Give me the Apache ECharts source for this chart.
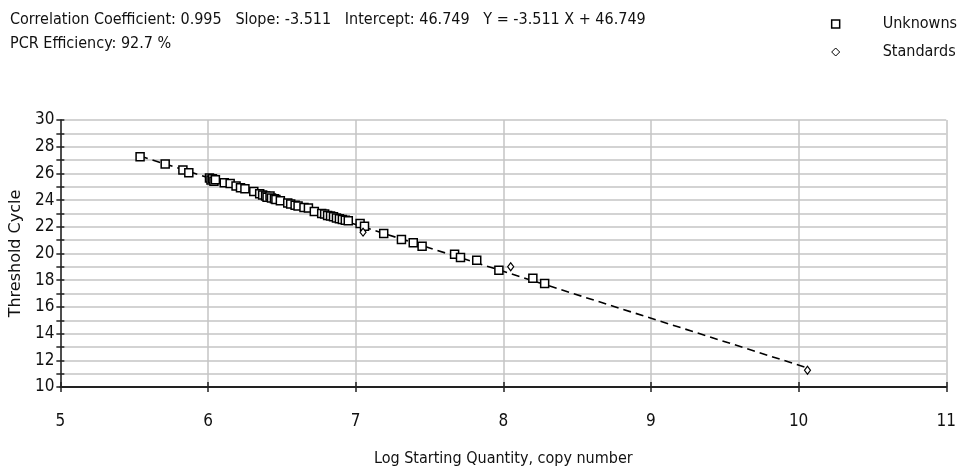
<!DOCTYPE html>
<html>
<head>
<meta charset="utf-8">
<script src="https://cdn.jsdelivr.net/npm/echarts@6/dist/echarts.min.js"></script>
<style>html,body{margin:0;padding:0;background:#fff}#c{width:959px;height:474px}</style>
</head>
<body>
<div id="c"></div>
<script>
const titleLine1 = 'Correlation Coefficient: 0.995   Slope: -3.511   Intercept: 46.749   Y = -3.511 X + 46.749';
const titleLine2 = 'PCR Efficiency: 92.7 %';
const xAxisName = 'Log Starting Quantity, copy number';
const yAxisName = 'Threshold Cycle';
const seriesNames = ['Unknowns', 'Standards'];
const xRange = [5, 11];
const yRange = [10, 30];

const unknownsX = [5.54,5.71,5.83,5.87,6.01,6.02,6.03,6.04,6.05,6.11,6.15,6.19,6.22,6.25,6.31,6.35,6.37,6.39,6.40,6.42,6.43,6.45,6.46,6.49,6.54,6.56,6.59,6.61,6.65,6.68,6.72,6.77,6.79,6.81,6.83,6.85,6.87,6.89,6.91,6.93,6.95,7.03,7.06,7.19,7.31,7.39,7.45,7.67,7.71,7.82,7.97,8.20,8.28];
const unknownsY = [27.25,26.70,26.25,26.05,25.65,25.50,25.60,25.42,25.52,25.30,25.25,25.05,24.92,24.85,24.65,24.48,24.38,24.30,24.22,24.30,24.15,24.10,24.05,23.95,23.78,23.70,23.62,23.55,23.45,23.40,23.15,23.00,22.95,22.85,22.80,22.75,22.65,22.60,22.55,22.50,22.45,22.25,22.05,21.50,21.05,20.80,20.55,19.95,19.70,19.50,18.75,18.15,17.75];
const standardsX = [7.05, 8.05, 10.06];
const standardsY = [21.60, 19.00, 11.25];
const fitLineX = [5.54, 10.06];
const fitLineY = [27.30, 11.43];

const zip = (a, b) => a.map((v, i) => [v, b[i]]);

const narrow = '"Liberation Sans Narrow", "DejaVu Sans Condensed", sans-serif';
const chart = echarts.init(document.getElementById('c'), null, {renderer: 'canvas'});

const baseX = {type: 'value', min: xRange[0], max: xRange[1], interval: 1};
const baseY = {type: 'value', min: yRange[0], max: yRange[1], interval: 1};

chart.setOption({
  animation: false,
  backgroundColor: '#ffffff',
  title: [
    {text: titleLine1, left: 5, top: 7, textStyle: {fontFamily: narrow, fontSize: 16, fontWeight: 'normal', color: '#111'}},
    {text: titleLine2, left: 5, top: 31, textStyle: {fontFamily: narrow, fontSize: 16, fontWeight: 'normal', color: '#111'}}
  ],
  legend: {
    orient: 'vertical', right: 2, top: 16, itemGap: 12, padding: 0,
    itemWidth: 8, itemHeight: 8,
    textStyle: {fontFamily: narrow, fontSize: 16, color: '#111', padding: [0, 0, 0, 38]},
    data: [
      {name: seriesNames[0], icon: 'rect', itemStyle: {color: '#fff', borderColor: '#000', borderWidth: 1.5}},
      {name: seriesNames[1], icon: 'diamond', itemStyle: {color: '#fff', borderColor: '#000', borderWidth: 1}}
    ]
  },
  grid: {left: 60, right: 9, top: 120, bottom: 87, containLabel: false},
  xAxis: [
    Object.assign({}, baseX, {
      name: xAxisName, nameLocation: 'middle', nameGap: 64,
      nameTextStyle: {fontFamily: narrow, fontSize: 16, color: '#111'},
      axisLine: {onZero: false, lineStyle: {color: '#222', width: 2}},
      axisTick: {show: true, length: 5, lineStyle: {color: '#222', width: 1.5}},
      axisLabel: {margin: 26, fontFamily: narrow, fontSize: 17, color: '#111'},
      splitLine: {show: true, lineStyle: {color: '#c4c4c4', width: 1.5}}
    }),
    Object.assign({}, baseX, {
      position: 'bottom',
      axisLine: {show: false},
      axisTick: {show: true, inside: true, length: 5, lineStyle: {color: '#222', width: 1.5}},
      axisLabel: {show: false},
      splitLine: {show: false}
    })
  ],
  yAxis: [
    Object.assign({}, baseY, {
      name: yAxisName, nameLocation: 'middle', nameGap: 31,
      nameTextStyle: {fontFamily: '"DejaVu Sans", sans-serif', fontSize: 16, color: '#111'},
      axisLine: {show: true, onZero: false, lineStyle: {color: '#222', width: 1.5}},
      axisTick: {show: true, length: 4, lineStyle: {color: '#222', width: 1.5}},
      axisLabel: {margin: 6, fontFamily: narrow, fontSize: 17, color: '#111',
        formatter: v => (v % 2 === 0 ? String(v) : '')},
      splitLine: {show: true, lineStyle: {color: '#c4c4c4', width: 1.5}}
    }),
    Object.assign({}, baseY, {
      position: 'left',
      axisLine: {show: false},
      axisTick: {show: true, inside: true, length: 4, lineStyle: {color: '#222', width: 1.5}},
      axisLabel: {show: false},
      splitLine: {show: false}
    })
  ],
  series: [
    {
      name: 'fit', type: 'line', data: zip(fitLineX, fitLineY), symbol: 'none', silent: true,
      lineStyle: {color: '#000', width: 1.6, type: [8, 5]}, z: 1
    },
    {
      name: seriesNames[0], type: 'scatter', data: zip(unknownsX, unknownsY),
      symbol: 'rect', symbolSize: 8,
      itemStyle: {color: '#fff', borderColor: '#000', borderWidth: 1.5, opacity: 1}, z: 3
    },
    {
      name: seriesNames[1], type: 'scatter', data: zip(standardsX, standardsY),
      symbol: 'diamond', symbolSize: [6, 8],
      itemStyle: {color: '#fff', borderColor: '#000', borderWidth: 1.2, opacity: 1}, z: 4
    }
  ]
});
</script>
</body>
</html>
